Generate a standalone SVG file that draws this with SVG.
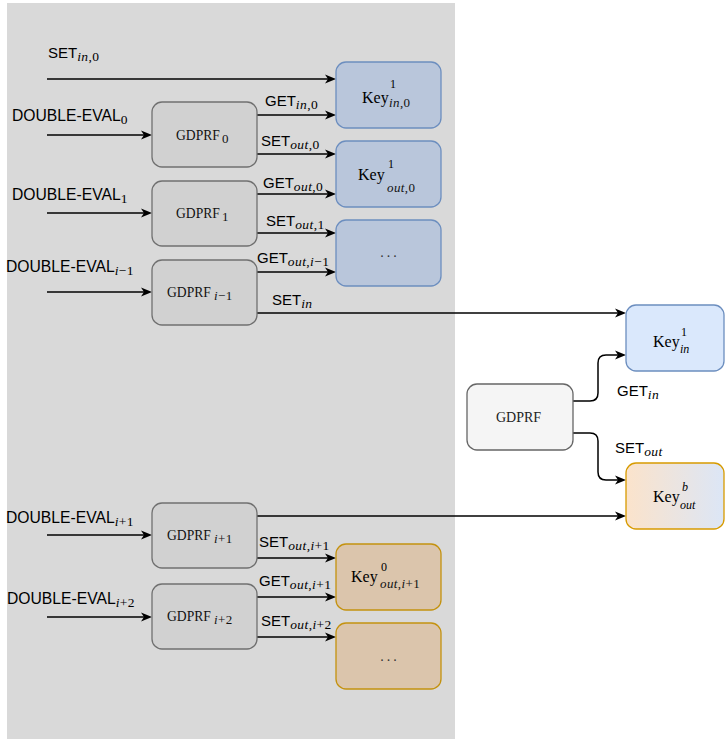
<svg xmlns="http://www.w3.org/2000/svg" width="725" height="739" viewBox="0 0 725 739">
<defs>
<marker id="ah" markerWidth="12" markerHeight="10" refX="6" refY="5" orient="auto" markerUnits="userSpaceOnUse"><path d="M0,0.5 L11,5 L0,9.5 L3,5 Z" fill="#000"/></marker>
<linearGradient id="og" x1="0" y1="0" x2="1" y2="0"><stop offset="0" stop-color="#fbe3cb"/><stop offset="1" stop-color="#dce6f6"/></linearGradient>
<style>
.lbl{font-family:"Liberation Sans",Arial,sans-serif;font-size:15px;fill:#000}
.de{font-family:"Liberation Sans",Arial,sans-serif;font-size:15.7px;fill:#000}
.sub{font-family:"Liberation Serif","Times New Roman",serif;font-size:13.5px;font-style:italic;letter-spacing:0.4px}
.up{font-style:normal}
.mono{font-family:"Liberation Serif","Times New Roman",serif;font-size:13.6px;fill:#111}
.key{font-family:"Liberation Serif","Times New Roman",serif;font-size:16px;fill:#000}
.m{font-family:"Liberation Serif","Times New Roman",serif;font-size:13px;letter-spacing:0.4px;fill:#111}
.ms{font-family:"Liberation Serif","Times New Roman",serif;font-size:12px;fill:#000}
.it{font-style:italic}
.gbox{fill:#d1d1d1;stroke:#707070;stroke-width:1.3}
.bkey{fill:#b9c6db;stroke:#6c8ebf;stroke-width:1.3}
.okey{fill:#dbc5ac;stroke:#c4920f;stroke-width:1.3}
.dots{font-family:"Liberation Serif",serif;font-size:14px;letter-spacing:3px;fill:#333}
.c{fill:none;stroke:#000;stroke-width:1.5;marker-end:url(#ah)}
</style>
</defs>
<rect x="7" y="3" width="448" height="736" fill="#d9d9d9"/>

<g id="connectors">
<path class="c" d="M47,79 L331,79"/>
<path class="c" d="M47,135 L147,135"/>
<path class="c" d="M47,213 L147,213"/>
<path class="c" d="M47,292 L147,292"/>
<path class="c" d="M47,535 L147,535"/>
<path class="c" d="M47,617 L147,617"/>
<path class="c" d="M257,115 L331,115"/>
<path class="c" d="M257,154 L331,154"/>
<path class="c" d="M257,194 L331,194"/>
<path class="c" d="M257,233 L331,233"/>
<path class="c" d="M257,272 L331,272"/>
<path class="c" d="M257,313 L621,313"/>
<path class="c" d="M257,516 L621,516"/>
<path class="c" d="M257,558 L331,558"/>
<path class="c" d="M257,597 L331,597"/>
<path class="c" d="M257,637 L331,637"/>
<path class="c" d="M573,401 L590,401 Q598,401 598,393 L598,363 Q598,355 606,355 L621,355"/>
<path class="c" d="M573,433 L590,433 Q598,433 598,441 L598,472 Q598,480 606,480 L621,480"/>
</g>

<g id="labels">
<text class="lbl" x="48" y="58">SET<tspan class="sub" dy="3">in<tspan class="up">,0</tspan></tspan></text>
<text class="de" x="12" y="121">DOUBLE-EVAL<tspan class="sub up" dy="3">0</tspan></text>
<text class="de" x="12" y="200">DOUBLE-EVAL<tspan class="sub up" dy="3">1</tspan></text>
<text class="de" x="6" y="272">DOUBLE-EVAL<tspan class="sub" dy="3">i<tspan class="up">−1</tspan></tspan></text>
<text class="de" x="6" y="523">DOUBLE-EVAL<tspan class="sub" dy="3">i<tspan class="up">+1</tspan></tspan></text>
<text class="de" x="7" y="604">DOUBLE-EVAL<tspan class="sub" dy="3">i<tspan class="up">+2</tspan></tspan></text>
<text class="lbl" x="265" y="106">GET<tspan class="sub" dy="3">in<tspan class="up">,0</tspan></tspan></text>
<text class="lbl" x="261" y="146">SET<tspan class="sub" dy="3">out<tspan class="up">,0</tspan></tspan></text>
<text class="lbl" x="263" y="188">GET<tspan class="sub" dy="3">out<tspan class="up">,0</tspan></tspan></text>
<text class="lbl" x="266" y="226">SET<tspan class="sub" dy="3">out<tspan class="up">,1</tspan></tspan></text>
<text class="lbl" x="257" y="263">GET<tspan class="sub" dy="3">out<tspan class="up">,</tspan>i<tspan class="up">−1</tspan></tspan></text>
<text class="lbl" x="272" y="305">SET<tspan class="sub" dy="3">in</tspan></text>
<text class="lbl" x="259" y="547">SET<tspan class="sub" dy="3">out<tspan class="up">,</tspan>i<tspan class="up">+1</tspan></tspan></text>
<text class="lbl" x="259" y="586">GET<tspan class="sub" dy="3">out<tspan class="up">,</tspan>i<tspan class="up">+1</tspan></tspan></text>
<text class="lbl" x="261" y="626">SET<tspan class="sub" dy="3">out<tspan class="up">,</tspan>i<tspan class="up">+2</tspan></tspan></text>
<text class="lbl" x="617" y="396">GET<tspan class="sub" dy="3">in</tspan></text>
<text class="lbl" x="615" y="453">SET<tspan class="sub" dy="3">out</tspan></text>
</g>

<g id="gdprf0"><rect class="gbox" x="152" y="102" width="105" height="65" rx="10"/><text class="mono" x="176" y="140">GDPRF</text><text class="m" x="222" y="143">0</text></g>
<g id="gdprf1"><rect class="gbox" x="152" y="181" width="105" height="65" rx="10"/><text class="mono" x="176" y="218">GDPRF</text><text class="m" x="222" y="221">1</text></g>
<g id="gdprf-im1"><rect class="gbox" x="152" y="260" width="105" height="65" rx="10"/><text class="mono" x="167" y="297">GDPRF</text><text class="m" x="214" y="300"><tspan class="it">i</tspan>−1</text></g>
<g id="gdprf-ip1"><rect class="gbox" x="152" y="503" width="105" height="65" rx="10"/><text class="mono" x="167" y="540">GDPRF</text><text class="m" x="214" y="543"><tspan class="it">i</tspan>+1</text></g>
<g id="gdprf-ip2"><rect class="gbox" x="152" y="584" width="105" height="65" rx="10"/><text class="mono" x="167" y="621">GDPRF</text><text class="m" x="214" y="624"><tspan class="it">i</tspan>+2</text></g>

<g id="key-in0"><rect class="bkey" x="336" y="62" width="105" height="66" rx="10"/><text class="key" x="362" y="103">Key</text><text class="ms" x="390" y="88">1</text><text class="m" x="389" y="107"><tspan class="it">in</tspan>,0</text></g>
<g id="key-out0"><rect class="bkey" x="336" y="141" width="105" height="66" rx="10"/><text class="key" x="358" y="180">Key</text><text class="ms" x="388" y="168">1</text><text class="m" x="387" y="192"><tspan class="it">out</tspan>,0</text></g>
<g id="key-dots1"><rect class="bkey" x="336" y="220" width="105" height="66" rx="10"/><text class="dots" x="390" y="257" text-anchor="middle">...</text></g>
<g id="key-outip1"><rect class="okey" x="336" y="544" width="105" height="66" rx="10"/><text class="key" x="351" y="582">Key</text><text class="ms" x="381" y="571">0</text><text class="m" x="380" y="588"><tspan class="it">out</tspan>,<tspan class="it">i</tspan>+1</text></g>
<g id="key-dots2"><rect class="okey" x="336" y="623" width="105" height="66" rx="10"/><text class="dots" x="390" y="661" text-anchor="middle">...</text></g>

<g id="gdprf"><rect x="467" y="384" width="106" height="66" rx="10" fill="#f5f5f5" stroke="#666" stroke-width="1.3"/><text x="496" y="422" font-family="Liberation Serif, serif" font-size="14" fill="#222">GDPRF</text></g>
<g id="key-in"><rect x="626" y="305" width="98" height="66" rx="10" fill="#dae8fc" stroke="#6c8ebf" stroke-width="1.3"/><text class="key" x="653" y="347">Key</text><text class="ms" x="681" y="336">1</text><text class="ms it" x="680" y="353">in</text></g>
<g id="key-outb"><rect x="626" y="463" width="98" height="66" rx="10" fill="url(#og)" stroke="#d79b00" stroke-width="1.3"/><text class="key" x="653" y="502">Key</text><text class="ms it" x="682" y="491">b</text><text class="ms it" x="680" y="509">out</text></g>
</svg>
